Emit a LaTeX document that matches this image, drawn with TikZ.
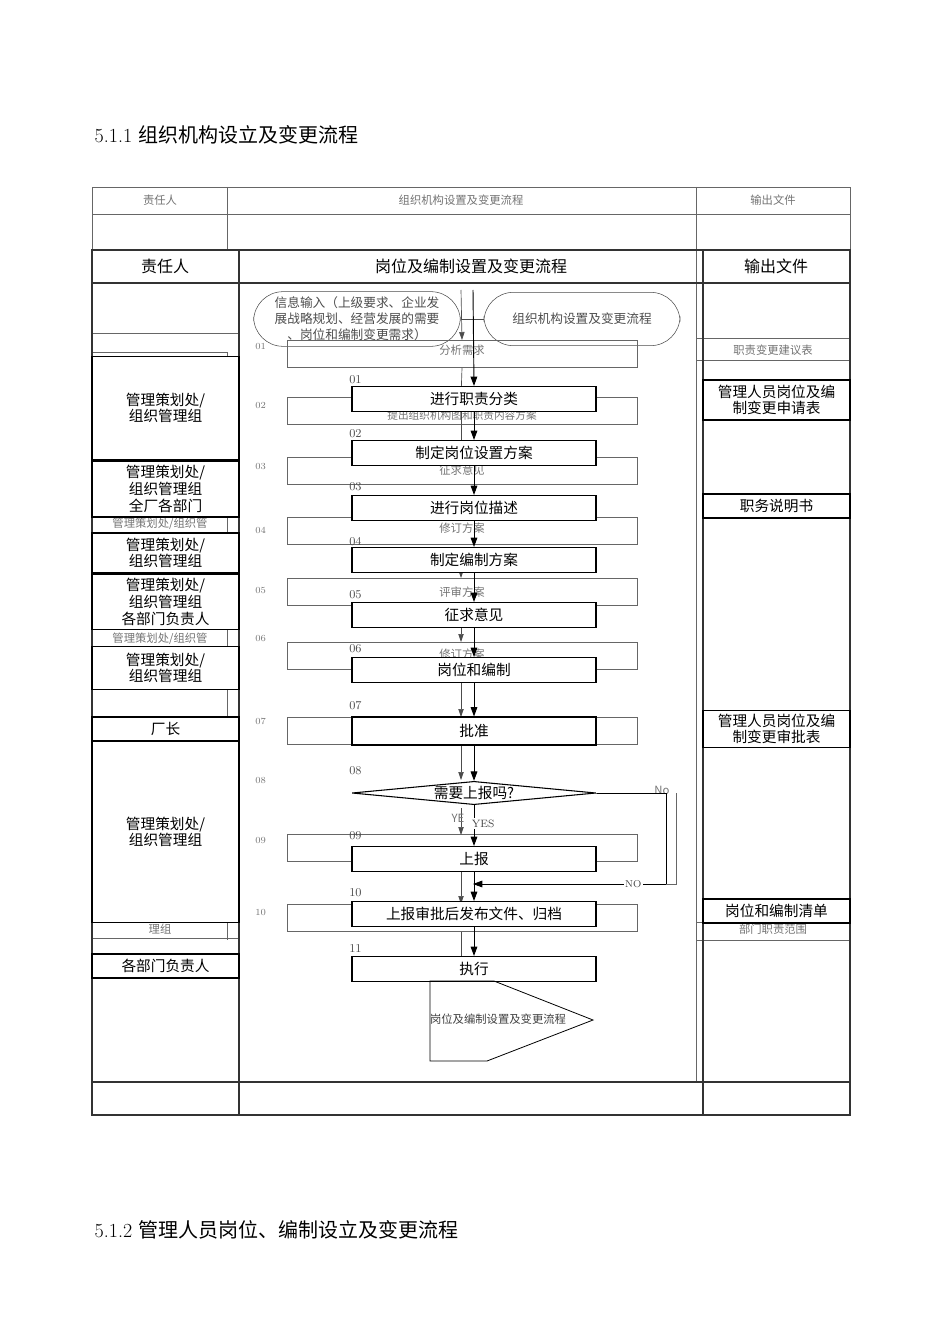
\documentclass[tikz,border=0pt]{standalone}
\usepackage{fontspec}
\newfontfamily\cjk{Noto Sans CJK SC}
\usetikzlibrary{shapes.geometric,arrows.meta}
\begin{document}
\begin{tikzpicture}[x=0.75pt,y=-0.75pt,
 fg/.style={draw,line width=0.8pt,fill=white,inner sep=0pt,minimum width=183pt,minimum height=18.75pt,font=\cjk\fontsize{11}{12}\selectfont},
 lcell/.style={draw,line width=0.8pt,fill=white,inner sep=0pt,minimum width=110.25pt,align=center,font=\cjk\fontsize{11}{12.5}\selectfont},
 bg/.style={draw,black!60,line width=0.5pt,inner sep=0pt,minimum width=262.5pt,minimum height=20.5pt},
 bgt/.style={text=black!55,font=\cjk\fontsize{8.5}{10}\selectfont,inner sep=1pt},
 num/.style={font=\fontsize{9}{10}\selectfont,text=black!70,anchor=west,inner sep=0pt},
 bnum/.style={font=\fontsize{7}{8}\selectfont,text=black!55,anchor=west,inner sep=0pt},
 arr/.style={-{Triangle[length=7pt,width=5pt]},line width=0.7pt},
 barr/.style={-{Triangle[length=6pt,width=4pt]},line width=0.5pt,black!70}]
\useasboundingbox (0,0) rectangle (950,1344);
\node[anchor=west,font=\fontsize{15}{18}\selectfont] (t1) at (90,135) {5.1.1 \cjk 组织机构设立及变更流程};
\node[anchor=west,font=\fontsize{15}{18}\selectfont] (t2) at (90,1230) {5.1.2 \cjk 管理人员岗位、编制设立及变更流程};
% background table
\draw[black!60,line width=0.5pt] (92,187) rectangle (850,1115);
\draw[black!60,line width=0.5pt] (92,214)--(850,214) (227,187)--(227,250) (696,187)--(696,1082) (92,1082)--(850,1082);
\node[bgt] (bh1) at (160,200) {责任人};
\node[bgt] (bh2) at (461,200) {组织机构设置及变更流程};
\node[bgt] (bh3) at (773,200) {输出文件};
\draw[black!60,line width=0.5pt] (92,333)--(239,333) (92,352)--(227,352)--(227,940) (92,938)--(239,938);
\node[bgt] (bl1) at (160,524) {管理策划处/组织管};
\node[bgt] (bl2) at (160,639) {管理策划处/组织管};
\node[bgt] (bl3) at (160,929) {理组};
\draw[black!60,line width=0.5pt] (696,338)--(850,338) (696,360)--(850,360) (696,922)--(850,922) (696,940)--(850,940);
\node[bgt] (br1) at (773,350) {职责变更建议表};
\node[bgt] (br2) at (773,929) {部门职责范围};
% background rounded boxes
\node[draw,black!70,rounded corners=22pt,minimum width=155pt,minimum height=41pt,align=center,inner sep=0pt,font=\cjk\fontsize{9.5}{12}\selectfont,text=black!70] (inp) at (357,319) {信息输入（上级要求、企业发\\展战略规划、经营发展的需要\\、岗位和编制变更需求）};
\node[draw,black!70,rounded corners=22pt,minimum width=147pt,minimum height=40pt,font=\cjk\fontsize{9.5}{12}\selectfont,text=black!70] (org) at (582,319) {组织机构设置及变更流程};
\draw[black!70,line width=0.5pt] (inp.east)--(org.west);
% background step boxes
\node[bg] (b1) at (462,354) {}; \node[bgt] at (462,350) {分析需求};
\node[bg] (b2) at (462,411) {}; \node[bgt,font=\cjk\fontsize{8}{9}\selectfont] at (462,415) {提出组织机构图和职责内容方案};
\node[bg] (b3) at (462,471) {}; \node[bgt] at (462,470) {征求意见};
\node[bg] (b4) at (462,531) {}; \node[bgt] at (462,528) {修订方案};
\node[bg] (b5) at (462,592) {}; \node[bgt] at (462,592) {评审方案};
\node[bg] (b6) at (462,656) {}; \node[bgt] at (462,654) {修订方案};
\node[bg] (b7) at (462,731) {};
\node[bg] (b9) at (462,848) {};
\node[bg] (b10) at (462,918) {};
\draw[barr] (461,290)--(b1.north);
\draw[barr] (b1.south)--(461,398);
\draw[barr] (461,412)--(461,458);
\draw[barr] (461,560)--(461,578);
\draw[barr] (461,606)--(461,642);
\draw[barr] (461,682)--(461,717);
\draw[barr] (461,745)--(461,780);
\draw[barr] (461,808)--(461,835);
\draw[barr] (461,862)--(461,904);
\draw[black!70,line width=0.5pt] (461,932)--(461,957);
\node[bgt] at (458,818) {YE};
\draw[black!60,line width=0.5pt] (596,793)--(660,793) (676,793)--(676,884)--(640,884);
\node[bgt] at (662,790) {No};
\foreach \n/\y in {01/346,02/405,03/466,04/530,05/590,06/638,07/721,08/780,09/840,10/912}{\node[bnum] at (255,\y) {\n};}
% foreground table
\draw[line width=0.8pt,black!80] (92,250) rectangle (850,1115);
\draw[line width=0.8pt,black!80] (92,283)--(850,283) (239,250)--(239,1115) (703,250)--(703,1115) (92,1082)--(850,1082);
\node[font=\cjk\fontsize{12}{14}\selectfont] (h1) at (165,266) {责任人};
\node[fill=white,inner sep=2pt,font=\cjk\fontsize{12}{14}\selectfont] (h2) at (471,266) {岗位及编制设置及变更流程};
\node[font=\cjk\fontsize{12}{14}\selectfont] (h3) at (776,266) {输出文件};
% left cells
\node[lcell,minimum height=77pt] (l1) at (165.5,408) {管理策划处/\\组织管理组};
\node[lcell,minimum height=42pt] (l2) at (165.5,489) {管理策划处/\\组织管理组\\全厂各部门};
\node[lcell,minimum height=30pt] (l3) at (165.5,553) {管理策划处/\\组织管理组};
\node[lcell,minimum height=41pt] (l4) at (165.5,602) {管理策划处/\\组织管理组\\各部门负责人};
\node[lcell,minimum height=32pt] (l5) at (165.5,668) {管理策划处/\\组织管理组};
\node[lcell,minimum height=18pt] (l6) at (165.5,729) {厂长};
\node[lcell,minimum height=136pt] (l7) at (165.5,832) {管理策划处/\\组织管理组};
\node[lcell,minimum height=18pt] (l8) at (165.5,966) {各部门负责人};
% right cells
\node[lcell,minimum height=30pt] (r1) at (776.5,400) {管理人员岗位及编\\制变更申请表};
\node[lcell,minimum height=18pt] (r2) at (776.5,506) {职务说明书};
\node[lcell,minimum height=28pt] (r3) at (776.5,729) {管理人员岗位及编\\制变更审批表};
\node[lcell,minimum height=18pt] (r4) at (776.5,911) {岗位和编制清单};
% foreground flow
\node[fg] (s1) at (474,399) {进行职责分类};
\node[fg] (s2) at (474,453) {制定岗位设置方案};
\node[fg] (s3) at (474,508) {进行岗位描述};
\node[fg] (s4) at (474,560) {制定编制方案};
\node[fg] (s5) at (474,615) {征求意见};
\node[fg] (s6) at (474,670) {岗位和编制};
\node[fg,minimum height=21pt] (s7) at (474,731) {批准};
\node[draw,line width=0.8pt,diamond,aspect=8.2,minimum width=183pt,inner sep=0pt,fill=white,font=\cjk\fontsize{11}{12}\selectfont] (s8) at (474,793) {需要上报吗?};
\node[fg] (s9) at (474,859) {上报};
\node[fg] (s10) at (474,914) {上报审批后发布文件、归档};
\node[fg] (s11) at (474,969) {执行};
\draw[line width=0.6pt] (430,981)--(494,981)--(593,1020)--(487,1061)--(430,1061)--cycle;
\node[bgt,text=black!75] (end) at (498,1019) {岗位及编制设置及变更流程};
\draw[arr] (473,290)--(s1.north);
\draw[arr] (s1.south)--(s2.north);
\draw[arr] (s2.south)--(s3.north);
\draw[arr] (s3.south)--(s4.north);
\draw[arr] (s4.south)--(s5.north);
\draw[arr] (s5.south)--(s6.north);
\draw[arr] (s6.south)--(s7.north);
\draw[arr] (s7.south)--(s8.north);
\draw[arr] (s8.south)--(s9.north) node[pos=0.45,right=-3pt,font=\fontsize{8}{9}\selectfont,text=black!75,fill=white,inner sep=1pt] {YES};
\draw[arr] (s9.south)--(s10.north);
\draw[arr] (s10.south)--(s11.north);
\coordinate (nx) at (666,793);
\coordinate (ny) at (666,884);
\draw[line width=0.6pt] (s8.east)--(nx)--(ny);
\draw[arr,line width=0.6pt] (ny)--(473,884) node[pos=0.17,fill=white,inner sep=1pt,font=\fontsize{7.5}{8}\selectfont,text=black!75] {NO};
\foreach \n/\y in {01/380,02/434,03/487,04/542,05/595,06/649,07/706,08/771,09/836,10/893,11/948}{\node[num] at (349,\y) {\n};}
\end{tikzpicture}
\end{document}
